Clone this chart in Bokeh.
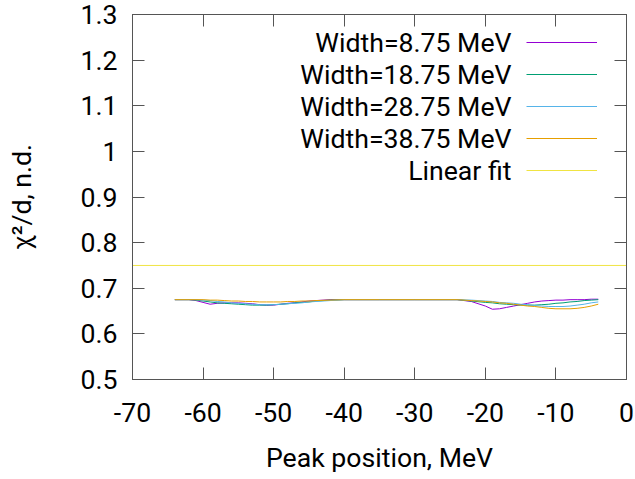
from bokeh.plotting import figure
from bokeh.models import (Range1d, LinearAxis, FixedTicker, PrintfTickFormatter,
                          Legend, LegendItem, Label)
from bokeh.core.properties import value
from bokeh.embed import file_html
from bokeh.resources import INLINE

# ---- data ----
peak_x = [-64, -62, -61, -60, -59, -58, -57, -56, -55, -54, -53, -52, -51, -50, -49, -48,
          -47, -46, -45, -44, -42, -40, -35, -30, -26, -24, -22, -20, -19, -18, -17,
          -16, -15, -14, -13, -12, -11, -10, -9, -8, -7, -6, -5, -4]

w875 = [0.675, 0.675, 0.673, 0.669, 0.665, 0.667, 0.668, 0.668, 0.668, 0.667, 0.666, 0.664,
        0.663, 0.663, 0.665, 0.667, 0.668, 0.670, 0.672, 0.673, 0.675, 0.675, 0.675, 0.675,
        0.675, 0.675, 0.671, 0.661, 0.654, 0.655, 0.658, 0.661, 0.664, 0.667, 0.670, 0.672,
        0.673, 0.674, 0.674, 0.675, 0.675, 0.675, 0.676, 0.676]

w1875 = [0.675, 0.675, 0.674, 0.672, 0.670, 0.668, 0.667, 0.666, 0.665, 0.664, 0.663, 0.663,
         0.663, 0.664, 0.665, 0.666, 0.668, 0.669, 0.670, 0.672, 0.674, 0.675, 0.675, 0.675,
         0.675, 0.675, 0.672, 0.669, 0.668, 0.666, 0.665, 0.664, 0.663, 0.663, 0.663, 0.664,
         0.665, 0.667, 0.668, 0.670, 0.671, 0.673, 0.674, 0.675]

w2875 = [0.675, 0.675, 0.675, 0.674, 0.673, 0.671, 0.670, 0.668, 0.667, 0.666, 0.665, 0.664,
         0.664, 0.664, 0.665, 0.666, 0.667, 0.668, 0.670, 0.671, 0.673, 0.675, 0.675, 0.675,
         0.675, 0.675, 0.674, 0.672, 0.671, 0.669, 0.668, 0.667, 0.665, 0.664, 0.662, 0.661,
         0.660, 0.660, 0.660, 0.661, 0.663, 0.665, 0.668, 0.670]

w3875 = [0.675, 0.675, 0.675, 0.675, 0.674, 0.674, 0.673, 0.672, 0.672, 0.671, 0.671, 0.670,
         0.670, 0.670, 0.670, 0.671, 0.671, 0.672, 0.672, 0.673, 0.674, 0.675, 0.675, 0.675,
         0.675, 0.675, 0.673, 0.671, 0.670, 0.668, 0.667, 0.665, 0.663, 0.661, 0.660, 0.658,
         0.656, 0.655, 0.655, 0.655, 0.656, 0.658, 0.661, 0.665]

fit_x = [-70, 0]
fit_y = [0.75, 0.75]

series = [
    ("Width=8.75 MeV", w875, "#9400d3"),
    ("Width=18.75 MeV", w1875, "#009e73"),
    ("Width=28.75 MeV", w2875, "#56b4e9"),
    ("Width=38.75 MeV", w3875, "#e69f00"),
]
fit_label = "Linear fit"
fit_color = "#f0e442"

x_ticks = [-70, -60, -50, -40, -30, -20, -10, 0]
y_ticks = [0.5, 0.6, 0.7, 0.8, 0.9, 1.0, 1.1, 1.2, 1.3]

FONT = "Roboto"
FS = "20pt"
FRAME_C = "#555555"

p = figure(frame_width=494, frame_height=365,
           min_border_left=132, min_border_right=9, min_border_top=14, min_border_bottom=20,
           x_range=Range1d(-70, 0), y_range=Range1d(0.5, 1.3),
           output_backend="svg", toolbar_location=None,
           x_axis_label="Peak position, MeV", y_axis_label="χ²/d, n.d.")
p.grid.visible = False
p.outline_line_color = FRAME_C
p.outline_line_width = 1
p.background_fill_color = "white"
p.border_fill_color = "white"

renderers = []
for name, ys, col in series:
    r = p.line(peak_x, ys, line_color=col, line_width=1)
    renderers.append(r)
rf = p.line(fit_x, fit_y, line_color=fit_color, line_width=1)
renderers.append(rf)

fmt = PrintfTickFormatter(format="%g")
for ax in (p.xaxis[0], p.yaxis[0]):
    ax.major_tick_in = 12
    ax.major_tick_out = 0
    ax.minor_tick_line_color = None
    ax.axis_line_color = FRAME_C
    ax.major_tick_line_color = FRAME_C
    ax.major_label_text_font = FONT
    ax.major_label_text_font_size = FS
    ax.major_label_text_color = "black"
    ax.axis_label_text_font = FONT
    ax.axis_label_text_font_size = FS
    ax.axis_label_text_font_style = "normal"
    ax.axis_label_text_color = "black"
    ax.formatter = fmt
p.xaxis[0].ticker = FixedTicker(ticks=x_ticks)
p.yaxis[0].ticker = FixedTicker(ticks=y_ticks)
p.xaxis[0].major_label_standoff = 23
p.xaxis[0].axis_label_standoff = 17
p.yaxis[0].major_label_standoff = 15
p.yaxis[0].axis_label_standoff = 40

# mirrored ticks on top / right (no labels)
top = LinearAxis(ticker=FixedTicker(ticks=x_ticks))
right = LinearAxis(ticker=FixedTicker(ticks=y_ticks))
for ax in (top, right):
    ax.major_tick_in = 12
    ax.major_tick_out = 0
    ax.minor_tick_line_color = None
    ax.axis_line_color = FRAME_C
    ax.major_tick_line_color = FRAME_C
    ax.major_label_text_font_size = "1px"
    ax.major_label_text_alpha = 0
    ax.major_label_text_color = None
    ax.major_label_standoff = 0
    ax.axis_label = None
p.add_layout(top, "above")
p.add_layout(right, "right")

# legend: sample lines on the right, text right-aligned to their left
items = [LegendItem(label=value(" "), renderers=[r]) for r in renderers]
leg = Legend(items=items, location=(394, 193), glyph_width=71, glyph_height=32,
             label_width=0, label_height=32, label_standoff=0, spacing=0, padding=0,
             margin=0, border_line_alpha=0, background_fill_alpha=0,
             label_text_font_size="1px")
p.add_layout(leg, "center")

legend_labels = [s[0] for s in series] + [fit_label]
for i, txt in enumerate(legend_labels):
    p.add_layout(Label(x=379, y=336.7 - 32 * i, x_units="screen", y_units="screen",
                       text=txt, text_align="right", text_baseline="middle",
                       text_font=FONT, text_font_size=FS, text_color="black"))

open("out.html", "w").write(file_html(p, INLINE))
